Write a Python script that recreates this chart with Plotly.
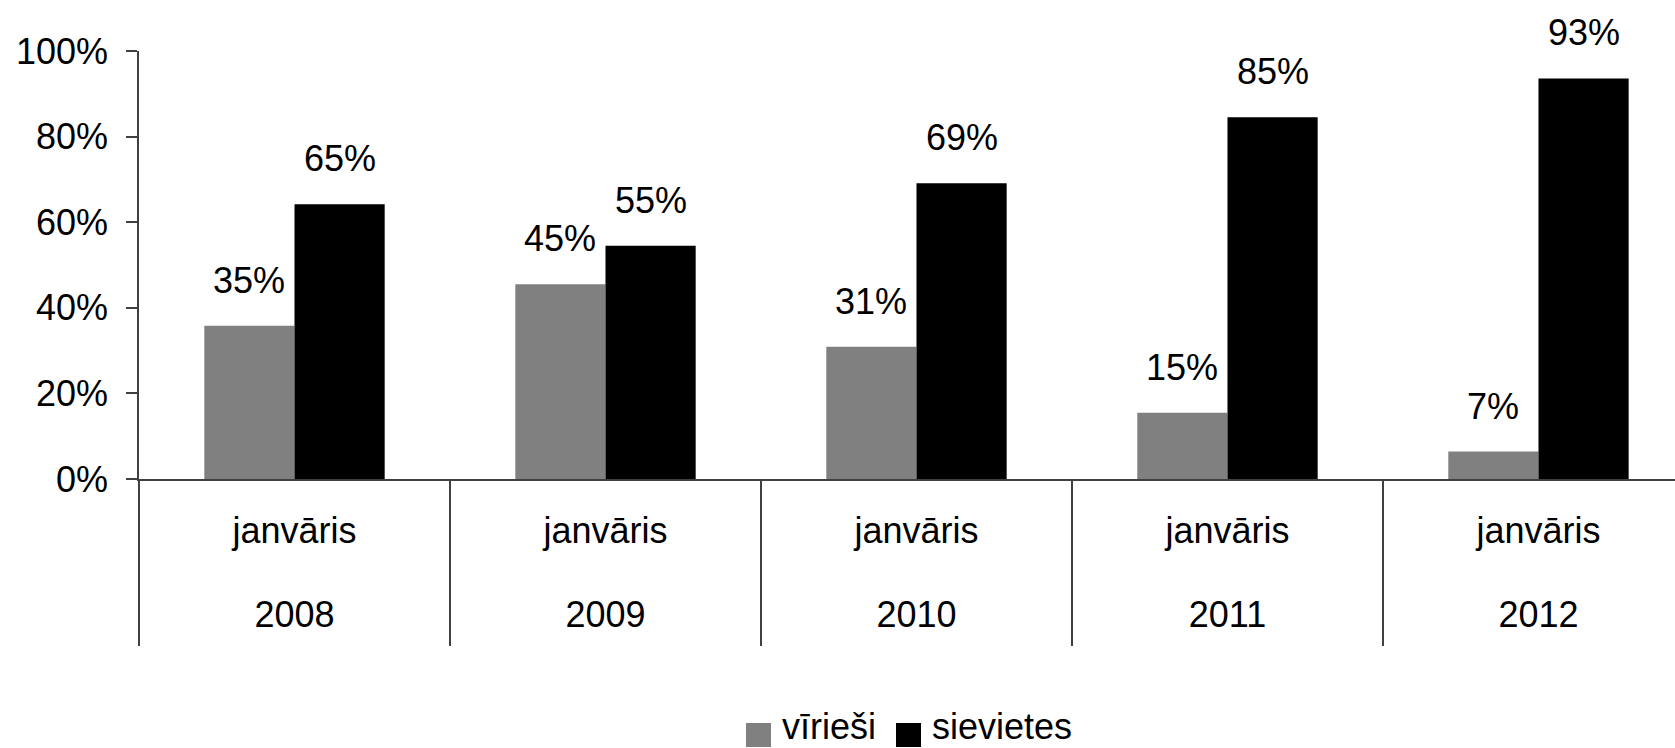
import plotly.graph_objects as go

# ---- data ----
categories = ["2008", "2009", "2010", "2011", "2012"]
month_label = "janvāris"
series_names = ["vīrieši", "sievietes"]
men = [35.8, 45.5, 30.9, 15.5, 6.4]
women = [64.2, 54.5, 69.1, 84.5, 93.6]
men_labels = ["35%", "45%", "31%", "15%", "7%"]
women_labels = ["65%", "55%", "69%", "85%", "93%"]
y_ticks = [0, 20, 40, 60, 80, 100]

# ---- style ----
FONT = "Liberation Sans, Arial, Helvetica, sans-serif"
FS = 36
GREY = "#808080"
BLACK = "#000000"
AXIS = "#404040"
W = 0.29                      # bar width in category units
FIG_W, FIG_H = 1675, 748
M_L, M_R, M_T, M_B = 139, 0, 51, 269
X_RANGE = [-0.5, 4.439]

pos = list(range(len(categories)))
bounds = [p - 0.5 for p in pos] + [pos[-1] + 0.5]

fig = go.Figure()
fig.add_bar(x=pos, y=men, width=W, offset=-W, name=series_names[0],
            marker=dict(color=GREY, line=dict(width=0)), showlegend=False,
            hoverinfo="skip")
fig.add_bar(x=pos, y=women, width=W, offset=0, name=series_names[1],
            marker=dict(color=BLACK, line=dict(width=0)), showlegend=False,
            hoverinfo="skip")
# empty helper traces so that the overlaid label / divider axes are drawn
fig.add_scatter(x=[None], y=[None], xaxis="x2", yaxis="y", mode="markers",
                showlegend=False, hoverinfo="skip")
fig.add_scatter(x=[None], y=[None], xaxis="x3", yaxis="y", mode="markers",
                showlegend=False, hoverinfo="skip")

annotations = []
for p, v, t in zip(pos, men, men_labels):
    annotations.append(dict(x=p - W / 2, y=v, xref="x", yref="y", text=t,
                            showarrow=False, yanchor="bottom", yshift=23,
                            font=dict(family=FONT, size=FS, color="black")))
for p, v, t in zip(pos, women, women_labels):
    annotations.append(dict(x=p + W / 2, y=v, xref="x", yref="y", text=t,
                            showarrow=False, yanchor="bottom", yshift=23,
                            font=dict(family=FONT, size=FS, color="black")))

# custom legend (large square keys) in paper coordinates
plot_w = FIG_W - M_L - M_R
plot_h = FIG_H - M_T - M_B
def px_x(px):
    return (px - M_L) / plot_w
def px_y(py):
    return (FIG_H - M_B - py) / plot_h

shapes = []
legend_items = [(series_names[0], GREY, 746, 782), (series_names[1], BLACK, 896, 932)]
for name, col, kx, tx in legend_items:
    shapes.append(dict(type="rect", xref="paper", yref="paper",
                       x0=px_x(kx), x1=px_x(kx + 25), y0=px_y(747), y1=px_y(723),
                       fillcolor=col, line=dict(width=0)))
    annotations.append(dict(x=px_x(tx - 2), y=px_y(726), xref="paper", yref="paper",
                            text=name, showarrow=False, xanchor="left", yanchor="middle",
                            font=dict(family=FONT, size=FS, color="black")))

fig.update_layout(
    width=FIG_W, height=FIG_H,
    margin=dict(l=M_L, r=M_R, t=M_T, b=M_B, autoexpand=False),
    paper_bgcolor="white", plot_bgcolor="white",
    font=dict(family=FONT, size=FS, color="black"),
    showlegend=False,
    annotations=annotations,
    shapes=shapes,
    xaxis=dict(range=X_RANGE, tickmode="array", tickvals=pos,
               ticktext=[month_label] * len(categories), ticks="",
               showline=True, linecolor=AXIS, linewidth=1.5,
               showgrid=False, zeroline=False, ticklabelstandoff=19,
               tickfont=dict(family=FONT, size=FS, color="black")),
    xaxis2=dict(overlaying="x", anchor="y", side="bottom", range=X_RANGE,
                tickmode="array", tickvals=pos, ticktext=categories, ticks="",
                showline=False, showgrid=False, zeroline=False,
                ticklabelstandoff=111,
                tickfont=dict(family=FONT, size=FS, color="black")),
    xaxis3=dict(overlaying="x", anchor="y", side="bottom", range=X_RANGE,
                tickmode="array", tickvals=bounds, ticks="outside", ticklen=166,
                tickwidth=1.5, tickcolor=AXIS, showticklabels=False,
                showline=False, showgrid=False, zeroline=False),
    yaxis=dict(range=[0, 100], tickmode="array", tickvals=y_ticks,
               ticktext=[f"{v}%" for v in y_ticks], ticks="outside", ticklen=11,
               tickcolor=AXIS, tickwidth=1.5, showline=True, linecolor=AXIS,
               linewidth=1.5, showgrid=False, zeroline=False, ticklabelstandoff=11,
               tickfont=dict(family=FONT, size=FS, color="black")),
)

fig.write_html("out.html",
               config={"displayModeBar": False},
               post_script="document.body.style.margin='0px';"
                           "document.body.style.overflow='hidden';")
